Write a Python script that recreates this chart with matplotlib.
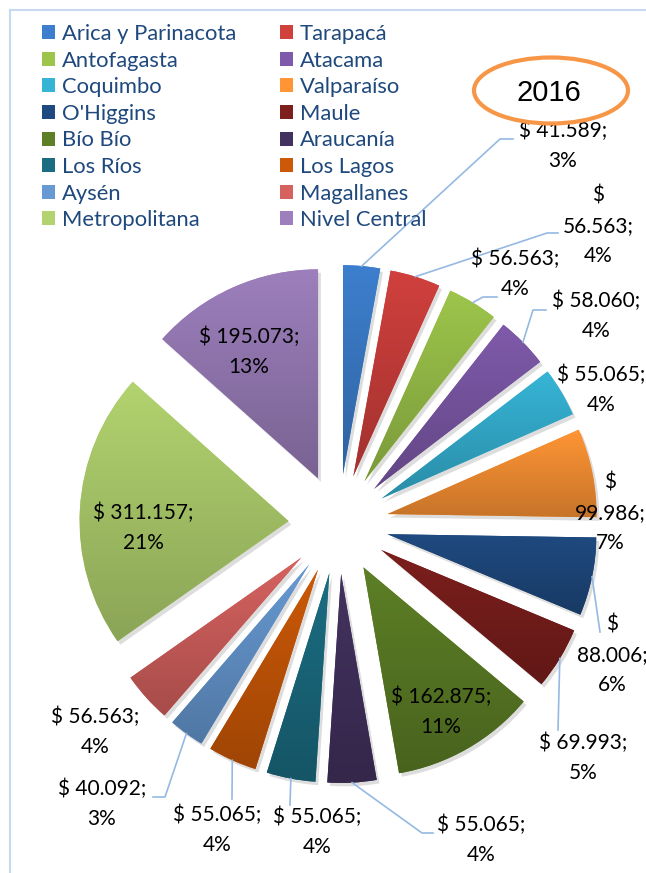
# ============================================
# Presupuesto por region 2016 - exploded pie
# ============================================

import numpy as np
import matplotlib
matplotlib.use("Agg")
import matplotlib.pyplot as plt
from matplotlib.patches import Patch, Ellipse
from matplotlib.colors import LinearSegmentedColormap, to_rgb
import matplotlib.patheffects as pe

# -----------------------------
# 1. Data
# -----------------------------
regions = ["Arica y Parinacota", "Tarapacá", "Antofagasta", "Atacama",
           "Coquimbo", "Valparaíso", "O'Higgins", "Maule",
           "Bío Bío", "Araucanía", "Los Ríos", "Los Lagos",
           "Aysén", "Magallanes", "Metropolitana", "Nivel Central"]
amounts = [41589, 56563, 56563, 58060,
           55065, 99986, 88006, 69993,
           162875, 55065, 55065, 55065,
           40092, 56563, 311157, 195073]
labels = ["$ 41.589;\n3%", "$\n56.563;\n4%", "$ 56.563;\n4%", "$ 58.060;\n4%",
          "$ 55.065;\n4%", "$\n99.986;\n7%", "$\n88.006;\n6%", "$ 69.993;\n5%",
          "$ 162.875;\n11%", "$ 55.065;\n4%", "$ 55.065;\n4%", "$ 55.065;\n4%",
          "$ 40.092;\n3%", "$ 56.563;\n4%", "$ 311.157;\n21%", "$ 195.073;\n13%"]
year = "2016"

# -----------------------------
# 2. Style / layout
# -----------------------------
top_colors = ["#3d7fce", "#d0403d", "#9dc54b", "#7f5aaa",
              "#36b4d6", "#ff9535", "#1f4a80", "#7c1f1d",
              "#5d7f26", "#43325f", "#1b6d82", "#cc5907",
              "#6799d2", "#d6625f", "#b2d36f", "#9c7fbc"]

W, H = 646, 873
center = (338.5, H - 524)
radius = 209
explode_px = 50

# label block centres (pixels from top-left) and leader elbows
label_xy = [(563, 146), (598, 226), (515, 274), (596, 316),
            (601, 390), (610, 513), (612, 655), (583, 758),
            (441, 712), (481, 840), (317, 832), (217, 830),
            (102, 804), (95, 732), (143, 528), (249, 352)]
leaders = {0: [(500, 139), (513, 139)],
           1: [(547, 233), (558, 233)],
           2: [(483, 297), (497, 297)],
           3: [(533, 310), (546, 310)],
           6: [(600, 632)],
           7: [(558, 730)],
           9: [(422, 833), (433, 833)],
           10: [(290, 805)],
           11: [(232, 799)],
           12: [(165, 797), (153, 797)]}

text_font = ["Lato", "DejaVu Sans"]

# -----------------------------
# 3. Figure
# -----------------------------
fig = plt.figure(figsize=(W / 100, H / 100), dpi=100)
ax = fig.add_axes([0, 0, 1, 1])

# explode is applied in data units here (radius is in pixels)
wedges, _ = ax.pie(amounts, colors=top_colors, startangle=90, counterclock=False,
                   center=center, radius=radius,
                   explode=[explode_px] * len(amounts),
                   wedgeprops=dict(linewidth=0, zorder=2))

# gradient fill + soft shadow on every slice
for w, c in zip(wedges, top_colors):
    w.set_path_effects([pe.SimplePatchShadow(offset=(2, -2.5), alpha=0.2, shadow_rgbFace="0.35"),
                        pe.Normal()])
    verts = w.get_path().vertices
    x0, y0 = verts.min(axis=0)
    x1, y1 = verts.max(axis=0)
    top = np.array(to_rgb(c))
    bottom = top * 0.78
    cmap = LinearSegmentedColormap.from_list("g", [bottom, top])
    grad = np.linspace(1, 0, 64).reshape(-1, 1)
    im = ax.imshow(grad, cmap=cmap, extent=[x0, x1, y0, y1], aspect="auto",
                   zorder=3, interpolation="bilinear")
    im.set_clip_path(w)

# data labels and leader lines
for i, (w, txt) in enumerate(zip(wedges, labels)):
    lx, ly = label_xy[i]
    ax.text(lx, H - ly, txt, ha="center", va="center", fontsize=15,
            linespacing=1.65, family=text_font, color="black", zorder=5)
    if i in leaders:
        ang = np.deg2rad((w.theta1 + w.theta2) / 2)
        cx, cy = w.center
        sx = cx + w.r * np.cos(ang)
        sy = cy + w.r * np.sin(ang)
        pts = [(sx, sy)] + [(px, H - py) for px, py in leaders[i]]
        xs, ys = zip(*pts)
        ax.plot(xs, ys, color="#95b9e3", lw=1.2, zorder=4)

# year badge
ax.add_patch(Ellipse((551, H - 90.5), 154, 66, facecolor="white",
                     edgecolor="#f79646", lw=3, zorder=6))
ax.text(549, H - 93, year, ha="center", va="center", fontsize=21,
        family="Liberation Sans", color="black", zorder=7)

# chart border (top / left visible)
ax.plot([9.5, 9.5], [0, H - 10], color="#c6d9f1", lw=1.5, zorder=1)
ax.plot([9.5, W], [H - 10, H - 10], color="#c6d9f1", lw=1.5, zorder=1)

# -----------------------------
# 4. Legend (row-wise order, two columns)
# -----------------------------
handles = [Patch(facecolor=c, edgecolor="none") for c in top_colors]
order = list(range(0, 16, 2)) + list(range(1, 16, 2))
leg = ax.legend([handles[k] for k in order], [regions[k] for k in order],
                ncol=2, loc="upper left", bbox_to_anchor=(42 / W, 1 - 24 / H),
                frameon=False, labelcolor="#1f497d",
                handlelength=0.6, handleheight=0.6, handletextpad=0.3,
                labelspacing=0.3, columnspacing=2.0, borderpad=0, borderaxespad=0,
                prop={"family": text_font, "size": 15.8})
leg.set_zorder(8)

ax.set_xlim(0, W)
ax.set_ylim(0, H)
ax.set_axis_off()

fig.savefig("out.png", dpi=100)
print("[INFO] saved out.png")
